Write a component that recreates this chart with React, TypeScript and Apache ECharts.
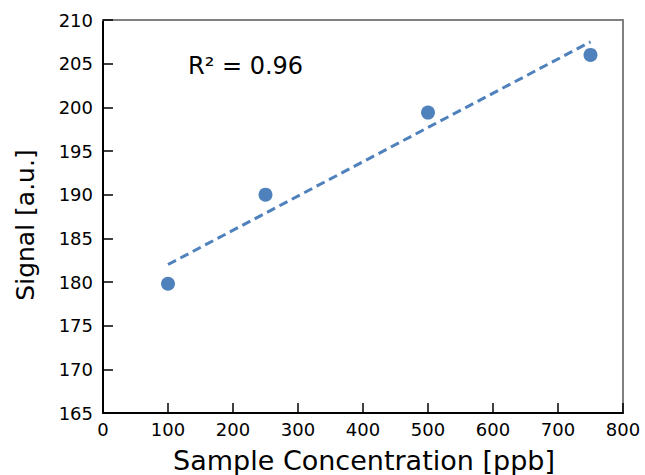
import React, { useEffect, useRef } from "react";
import * as echarts from "echarts";

const concentrations = [100, 250, 500, 750];
const signals = [179.8, 190.0, 199.4, 206.0];
const fitLine = [
  [100, 182.0],
  [750, 207.5],
];
const r2Label = "R² = 0.96";
const xTitle = "Sample Concentration [ppb]";
const yTitle = "Signal [a.u.]";

export default function App() {
  const ref = useRef<HTMLDivElement>(null);
  useEffect(() => {
    if (!ref.current) return;
    const chart = echarts.init(ref.current, undefined, { renderer: "svg" });
    const font = "DejaVu Sans";
    chart.setOption({
      animation: false,
      backgroundColor: "#ffffff",
      textStyle: { fontFamily: font },
      grid: { left: 103, top: 20, right: 22, bottom: 62, containLabel: false },
      xAxis: [
        {
          type: "value",
          min: 0,
          max: 800,
          interval: 100,
          axisLine: { show: true, onZero: false, lineStyle: { color: "#000", width: 2 } },
          axisTick: { show: true, inside: true, length: 10, lineStyle: { color: "#000", width: 1.5 } },
          axisLabel: { fontSize: 18, color: "#000", margin: 7, fontFamily: font },
          splitLine: { show: false },
        },
        {
          type: "value",
          position: "top",
          min: 0,
          max: 800,
          axisLine: { show: true, onZero: false, lineStyle: { color: "#808080", width: 2 } },
          axisTick: { show: false },
          axisLabel: { show: false },
          splitLine: { show: false },
        },
      ],
      yAxis: [
        {
          type: "value",
          min: 165,
          max: 210,
          interval: 5,
          axisLine: { show: true, onZero: false, lineStyle: { color: "#000", width: 2 } },
          axisTick: { show: true, inside: true, length: 10, lineStyle: { color: "#000", width: 1.5 } },
          axisLabel: { fontSize: 18, color: "#000", margin: 10, fontFamily: font },
          splitLine: { show: false },
        },
        {
          type: "value",
          position: "right",
          min: 165,
          max: 210,
          axisLine: { show: true, onZero: false, lineStyle: { color: "#808080", width: 2 } },
          axisTick: { show: false },
          axisLabel: { show: false },
          splitLine: { show: false },
        },
      ],
      series: [
        {
          type: "line",
          data: fitLine,
          symbol: "none",
          lineStyle: { color: "#4f81bd", width: 3, type: [9, 5] },
          z: 2,
        },
        {
          type: "scatter",
          data: concentrations.map((c, i) => [c, signals[i]]),
          symbolSize: 14,
          itemStyle: { color: "#4f81bd", opacity: 1 },
          z: 3,
        },
      ],
      graphic: [
        {
          type: "text",
          left: 188,
          top: 54,
          style: { text: r2Label, fontSize: 24, fill: "#000", fontFamily: font },
        },
        {
          type: "text",
          x: 364,
          y: 460,
          style: {
            text: xTitle,
            fontSize: 27,
            fill: "#000",
            fontFamily: font,
            align: "center",
            verticalAlign: "middle",
          },
        },
        {
          type: "text",
          x: 25,
          y: 225,
          rotation: Math.PI / 2,
          style: {
            text: yTitle,
            fontSize: 25,
            fill: "#000",
            fontFamily: font,
            align: "center",
            verticalAlign: "middle",
          },
        },
      ],
    });
    return () => chart.dispose();
  }, []);
  return (
    <div
      ref={ref}
      style={{ position: "absolute", left: 0, top: 0, width: 645, height: 475 }}
    />
  );
}
